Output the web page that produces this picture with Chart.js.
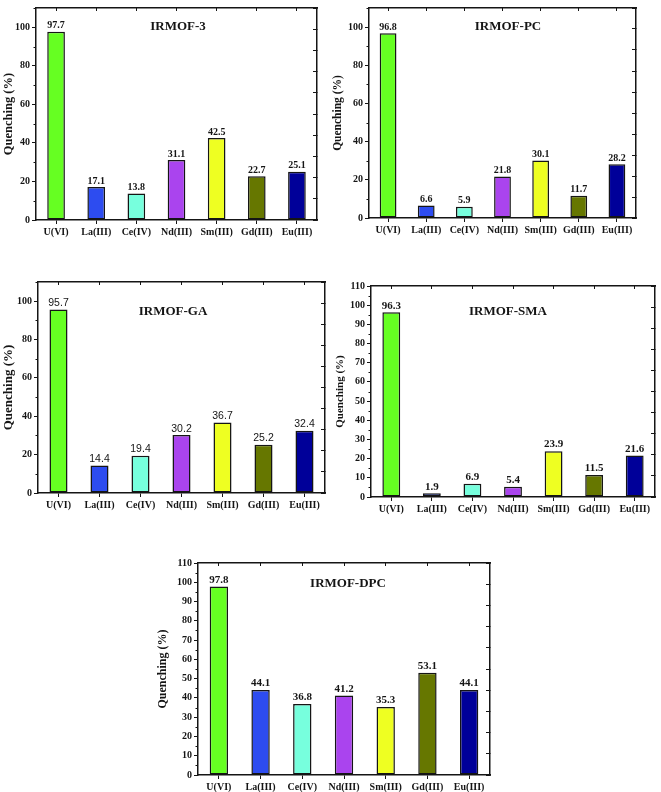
<!DOCTYPE html>
<html><head><meta charset="utf-8">
<script src="https://cdn.jsdelivr.net/npm/chart.js@4.4.0/dist/chart.umd.min.js"></script>
<style>
html,body{margin:0;padding:0;background:#fff;}
#wrap{position:relative;width:661px;height:792px;overflow:hidden;background:#fff;}
canvas{position:absolute;}
</style></head><body><div id="wrap">
<canvas id="c1"></canvas><canvas id="c2"></canvas><canvas id="c3"></canvas><canvas id="c4"></canvas><canvas id="c5"></canvas>
</div>
<script>
const categories = ['U(VI)','La(III)','Ce(IV)','Nd(III)','Sm(III)','Gd(III)','Eu(III)'];
const irmof3   = [97.7, 17.1, 13.8, 31.1, 42.5, 22.7, 25.1];
const irmofPC  = [96.8, 6.6, 5.9, 21.8, 30.1, 11.7, 28.2];
const irmofGA  = [95.7, 14.4, 19.4, 30.2, 36.7, 25.2, 32.4];
const irmofSMA = [96.3, 1.9, 6.9, 5.4, 23.9, 11.5, 21.6];
const irmofDPC = [97.8, 44.1, 36.8, 41.2, 35.3, 53.1, 44.1];
const barColors = ['#66ff22','#2d4cf0','#77ffdd','#aa44ee','#eeff22','#667700','#000099'];
const yTicks20 = [0, 20, 40, 60, 80, 100];
const yTicks10 = [0, 10, 20, 30, 40, 50, 60, 70, 80, 90, 100, 110];
const rightTicks = [0, 11, 22, 33, 44, 55, 66, 77, 88, 99, 110];
const yMax = 110;

const SERIF = '"Liberation Serif","Times New Roman",serif';
const SANS = '"Liberation Sans",Arial,sans-serif';
const INK = '#151515';

const panels = [
  {id:'c1', x:0,   y:0,   w:330, h:250, area:{l:36,r:317,t:3,b:220}, data:irmof3,   name:'IRMOF-3',   tx:178, ty:27, ticks:yTicks20, vfont:'bold 10px '+SERIF, ytSize:12.5, ytPad:1},
  {id:'c2', x:330, y:0,   w:331, h:250, area:{l:39,r:306,t:3,b:218}, data:irmofPC,  name:'IRMOF-PC',  tx:178, ty:27, ticks:yTicks20, vfont:'bold 10px '+SERIF, ytSize:11.5, ytPad:1},
  {id:'c3', x:0,   y:260, w:330, h:262, area:{l:38,r:325,t:22,b:233}, data:irmofGA, name:'IRMOF-GA',  tx:173, ty:52, ticks:yTicks20, vfont:'10.5px '+SANS, ytSize:13, ytPad:1},
  {id:'c4', x:330, y:260, w:331, h:262, area:{l:41,r:325,t:26,b:237}, data:irmofSMA, name:'IRMOF-SMA', tx:178, ty:52, ticks:yTicks10, vfont:'bold 11px '+SERIF, ytSize:11, ytPad:4},
  {id:'c5', x:145, y:540, w:355, h:252, area:{l:53,r:345,t:23,b:235}, data:irmofDPC, name:'IRMOF-DPC', tx:203, ty:44, ticks:yTicks10, vfont:'bold 11px '+SERIF, ytSize:12, ytPad:11}
];

function build(p){
  const cv = document.getElementById(p.id);
  cv.width = p.w; cv.height = p.h;
  cv.style.left = p.x + 'px'; cv.style.top = p.y + 'px';
  cv.style.width = p.w + 'px'; cv.style.height = p.h + 'px';
  const minor = [];
  for (let i = 0; i < p.ticks.length; i++) {
    const step = p.ticks[1] - p.ticks[0];
    const m = p.ticks[i] + step / 2;
    if (m <= yMax) minor.push(m);
  }
  const overlay = {
    id: 'overlay' + p.id,
    afterDraw(chart){
      const ctx = chart.ctx;
      const ys = chart.scales.y;
      const left = chart.chartArea.left;
      ctx.save();
      ctx.strokeStyle = INK; ctx.lineWidth = 1;
      minor.forEach(v => {
        const py = Math.round(ys.getPixelForValue(v)) + 0.5;
        ctx.beginPath(); ctx.moveTo(left - 2.5, py); ctx.lineTo(left, py); ctx.stroke();
      });
      ctx.fillStyle = INK;
      ctx.font = p.vfont;
      ctx.textAlign = 'center';
      ctx.textBaseline = 'bottom';
      const meta = chart.getDatasetMeta(0);
      meta.data.forEach((bar, i) => {
        ctx.fillText(p.data[i].toFixed(1), bar.x, bar.y - 1);
      });
      ctx.font = 'bold 13px ' + SERIF;
      ctx.textBaseline = 'middle';
      ctx.fillText(p.name, p.tx, p.ty);
      ctx.restore();
    }
  };
  new Chart(cv, {
    type: 'bar',
    data: {
      labels: categories,
      datasets: [{
        data: p.data,
        backgroundColor: barColors,
        borderColor: INK,
        borderWidth: 1.5,
        borderSkipped: false,
        barPercentage: 0.44,
        categoryPercentage: 1
      }]
    },
    options: {
      responsive: false,
      animation: false,
      devicePixelRatio: 1,
      layout: {padding: 0},
      plugins: {legend: {display: false}, tooltip: {enabled: false}},
      scales: {
        x: {
          position: 'bottom',
          grid: {offset: false, drawOnChartArea: false, tickLength: 4, color: INK},
          border: {color: INK, width: 1.5},
          ticks: {color: INK, font: {family: SERIF, weight: 'bold', size: 10}, padding: 2, maxRotation: 0, autoSkip: false},
          afterFit: s => { s.height = p.h - p.area.b; }
        },
        xTop: {
          type: 'category',
          position: 'top',
          grid: {offset: false, drawOnChartArea: false, tickLength: -3, color: INK},
          border: {color: INK, width: 1.5},
          ticks: {display: false},
          afterFit: s => { s.height = p.area.t; }
        },
        y: {
          position: 'left',
          min: 0, max: yMax,
          afterBuildTicks: s => { s.ticks = p.ticks.map(v => ({value: v})); },
          grid: {drawOnChartArea: false, tickLength: 4, color: INK},
          border: {color: INK, width: 1.5},
          ticks: {color: INK, font: {family: SERIF, weight: 'bold', size: 10}, padding: 2},
          title: {display: true, text: 'Quenching (%)', color: INK, font: {family: SERIF, weight: 'bold', size: p.ytSize}, padding: {top: p.ytPad, bottom: 0}},
          afterFit: s => { s.width = p.area.l; }
        },
        y2: {
          position: 'right',
          min: 0, max: yMax,
          afterBuildTicks: s => { s.ticks = rightTicks.map(v => ({value: v})); },
          grid: {drawOnChartArea: false, tickLength: -4, color: INK},
          border: {color: INK, width: 1.5},
          ticks: {display: false},
          afterFit: s => { s.width = p.w - p.area.r; }
        }
      }
    },
    plugins: [overlay]
  });
}
panels.forEach(build);
</script>
</body></html>
